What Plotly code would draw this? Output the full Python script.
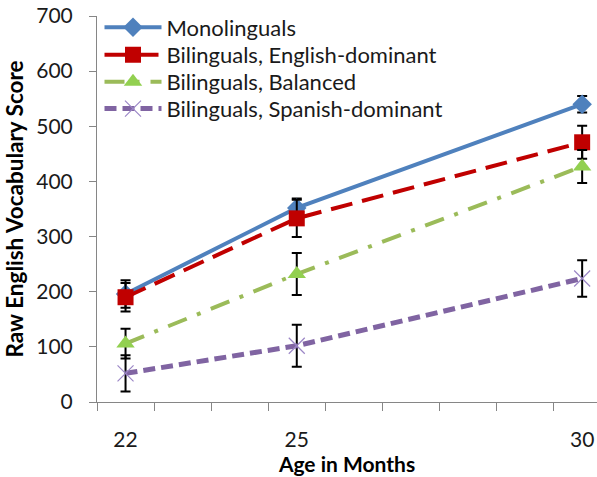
import plotly.graph_objects as go

ages = [22, 25, 30]
x_tick_labels = ["22", "25", "30"]
series_names = ["Monolinguals", "Bilinguals, English-dominant",
                "Bilinguals, Balanced", "Bilinguals, Spanish-dominant"]
mono = [196, 352, 540]
mono_err = [25, 17, 15]
eng_dom = [190, 333, 471]
eng_dom_err = [26, 34, 30]
balanced = [106, 232, 427]
balanced_err = [27, 38, 30]
spa_dom = [52, 102, 224]
spa_dom_err = [33, 38, 33]

FONT = "Lato"
TXT = "#1a1a1a"
fig = go.Figure()

styles = [
    dict(line=dict(color="#4F81BD", width=4, dash="solid"),
         marker=dict(symbol="diamond", size=15, color="#4F81BD")),
    dict(line=dict(color="#C00000", width=4, dash="22px,10px"),
         marker=dict(symbol="square", size=16, color="#C00000")),
    dict(line=dict(color="#9BBB59", width=4, dash="20px,11px,4px,11px"),
         marker=dict(symbol="triangle-up", size=16, color="#92D050")),
    dict(line=dict(color="#8064A2", width=5, dash="12px,6px"),
         marker=dict(symbol="x-thin", size=16, color="#9B86C6",
                     line=dict(width=1.2, color="#9B86C6"))),
]
values = [mono, eng_dom, balanced, spa_dom]
errors = [mono_err, eng_dom_err, balanced_err, spa_dom_err]
legend_ids = ["legend", "legend2", "legend3", "legend4"]
legend_px = [27, 54.5, 81.5, 108.5]  # vertical centres of legend entries

for name, v, e, st, lg in zip(series_names, values, errors, styles, legend_ids):
    fig.add_trace(go.Scatter(
        x=ages, y=v, name=name, mode="lines+markers",
        line=st["line"], marker=st["marker"], legend=lg,
        error_y=dict(type="data", array=e, visible=True,
                     color="black", thickness=2, width=5),
    ))

PLOT_TOP, PLOT_BOTTOM = 15.5, 402.5
legend_common = dict(x=0.005, xanchor="left", yanchor="middle",
                     bgcolor="rgba(0,0,0,0)", itemwidth=57,
                     font=dict(family=FONT, size=22, color=TXT))
layout_legends = {}
for lg, py in zip(legend_ids, legend_px):
    yy = 1 - (py - PLOT_TOP) / (PLOT_BOTTOM - PLOT_TOP)
    layout_legends[lg] = dict(legend_common, y=yy)

fig.update_layout(
    width=597, height=477,
    margin=dict(l=97, r=0, t=PLOT_TOP, b=477 - PLOT_BOTTOM, autoexpand=False),
    paper_bgcolor="white", plot_bgcolor="white",
    font=dict(family=FONT, size=21, color=TXT),
    showlegend=True,
    **layout_legends,
    xaxis=dict(
        range=[21.5, 30.26], showgrid=False, zeroline=False,
        showline=True, linecolor="#868686", linewidth=1,
        tickmode="array", tickvals=ages, ticktext=x_tick_labels,
        ticks="", ticklabelstandoff=19,
        tickfont=dict(family=FONT, size=21, color=TXT),
        minor=dict(tick0=21.5, dtick=1, ticks="outside", ticklen=8,
                   tickcolor="#868686", tickwidth=1, showgrid=False),
        title=dict(text="<b>Age in Months</b>", standoff=0,
                   font=dict(family=FONT, size=21, color="black")),
    ),
    yaxis=dict(
        range=[0, 700], dtick=100, showgrid=False, zeroline=False,
        showline=True, linecolor="#868686", linewidth=1,
        ticks="outside", ticklen=7, tickcolor="#868686",
        ticklabelstandoff=12,
        tickfont=dict(family=FONT, size=21, color=TXT),
        title=dict(text="<b>Raw English Vocabulary Score</b>", standoff=6,
                   font=dict(family=FONT, size=22.5, color="black")),
    ),
)

fig.write_html(
    "out.html",
    config={"displayModeBar": False},
    post_script="document.body.style.margin='0';document.body.style.overflow='hidden';",
)
